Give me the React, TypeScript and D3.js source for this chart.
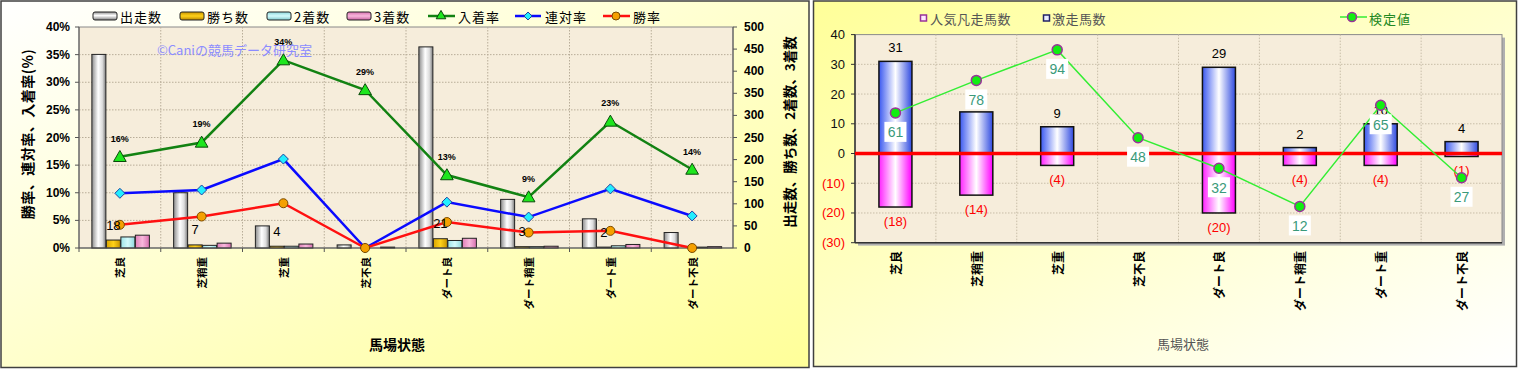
import React from "react";
import * as d3 from "d3";

// 馬場状態別の成績
const categories = ["芝良", "芝稍重", "芝重", "芝不良", "ダート良", "ダート稍重", "ダート重", "ダート不良"];
const starters = [438, 125, 50, 7, 455, 110, 66, 35];
const wins = [18, 7, 4, 0, 21, 3, 2, 0];
const seconds = [25, 6, 4, 0, 17, 3, 5, 2];
const thirds = [29, 11, 9, 2, 22, 4, 8, 3];
const winRate = [4.2, 5.7, 8.1, 0, 4.7, 2.8, 3.1, 0];
const rentaiRate = [9.9, 10.5, 16.1, 0, 8.3, 5.6, 10.7, 5.8];
const placeRate = [16.5, 19.1, 34.0, 28.6, 13.2, 9.2, 22.9, 14.2];
const placeLabels = ["16%", "19%", "34%", "29%", "13%", "9%", "23%", "14%"];
const pctTicks = [0, 5, 10, 15, 20, 25, 30, 35, 40];
const cntTicks = [0, 50, 100, 150, 200, 250, 300, 350, 400, 450, 500];

// 激走/凡走と検定値
const surgeCounts = [31, 14, 9, 0, 29, 2, 10, 4];
const flopCounts = [18, 14, 4, 0, 20, 4, 4, 1];
const testValues = [61, 78, 94, 48, 32, 12, 65, 27];
const rightTicks = [40, 30, 20, 10, 0, -10, -20, -30];

const JP = "'Noto Sans CJK JP', sans-serif";
const NUM = "'Liberation Sans', Arial, sans-serif";

const LeftChart: React.FC = () => {
  const x = d3.scaleBand(categories, [79, 733]);
  const yPct = d3.scaleLinear([0, 40], [248, 27]);
  const yCnt = d3.scaleLinear([0, 500], [248, 27]);
  const cx = (i: number) => (x(categories[i]) ?? 0) + x.bandwidth() / 2;
  const series = [starters, wins, seconds, thirds];
  const fills = ["url(#gStart)", "url(#gWin)", "url(#gSecond)", "url(#gThird)"];
  const line = (vals: number[]) =>
    d3.line<number>((_, i) => cx(i), (d) => yPct(d))(vals) ?? undefined;
  const tri = d3.symbol(d3.symbolTriangle, 70)() ?? "";
  const diamond = "M0,-5L5,0L0,5L-5,0Z";

  return (
    <g>
      <rect x={1} y={1} width={808} height={366.5} fill="url(#gLeftBg)" stroke="#404040" strokeWidth={1.5} />
      <rect x={79} y={27} width={654} height={221} fill="#f6eddb" stroke="#8a8a8a" />
      <g stroke="#b8ad98" strokeDasharray="1.5,1.5" strokeWidth={1}>
        {pctTicks.slice(1, -1).map((t) => (
          <line key={t} x1={79} x2={733} y1={yPct(t)} y2={yPct(t)} />
        ))}
        {categories.slice(1).map((c) => (
          <line key={c} x1={x(c)} x2={x(c)} y1={27} y2={248} />
        ))}
      </g>
      <text x={157} y={55} fontFamily={JP} fontSize={13} fill="#8c8cff">©Caniの競馬データ研究室</text>

      {/* bars */}
      {series.map((vals, s) =>
        vals.map((v, i) => (
          <rect key={`${s}-${i}`} x={cx(i) - 28 + s * 14.5} y={yCnt(v)} width={14}
            height={248 - yCnt(v)} fill={fills[s]} stroke="#222" strokeWidth={1} />
        ))
      )}

      {/* axes */}
      <line x1={79} x2={79} y1={27} y2={248} stroke="#555" />
      <line x1={733} x2={733} y1={27} y2={248} stroke="#555" />
      <line x1={79} x2={733} y1={248} y2={248} stroke="#555" />
      {pctTicks.map((t) => (
        <g key={t}>
          <line x1={75} x2={79} y1={yPct(t)} y2={yPct(t)} stroke="#555" />
          <text x={70} y={yPct(t)} textAnchor="end" dominantBaseline="central" fontFamily={NUM}
            fontWeight="bold" fontSize={12}>{t}%</text>
        </g>
      ))}
      {cntTicks.map((t) => (
        <g key={t}>
          <line x1={733} x2={737} y1={yCnt(t)} y2={yCnt(t)} stroke="#555" />
          <text x={744} y={yCnt(t)} dominantBaseline="central" fontFamily={NUM}
            fontWeight="bold" fontSize={12}>{t}</text>
        </g>
      ))}
      {categories.map((c, i) => (
        <g key={c}>
          <line x1={x(c)} x2={x(c)} y1={248} y2={252} stroke="#555" />
          <text transform={`translate(${cx(i)},257) rotate(-90)`} textAnchor="end"
            dominantBaseline="central" fontFamily={JP} fontWeight="bold" fontSize={10.5}>{c}</text>
        </g>
      ))}

      {/* lines */}
      <path d={line(placeRate)} fill="none" stroke="#128212" strokeWidth={2.5} />
      <path d={line(rentaiRate)} fill="none" stroke="#0a0aff" strokeWidth={2.5} />
      <path d={line(winRate)} fill="none" stroke="#ff1010" strokeWidth={2.5} />
      {placeRate.map((v, i) => (
        <path key={i} d={tri} transform={`translate(${cx(i)},${yPct(v) + 1})`} fill="#1ee61e" stroke="#0a4a0a" strokeWidth={1} />
      ))}
      {rentaiRate.map((v, i) => (
        <path key={i} d={diamond} transform={`translate(${cx(i)},${yPct(v)})`} fill="#22eeff" stroke="#2040a0" strokeWidth={1} />
      ))}
      {winRate.map((v, i) => (
        <circle key={i} cx={cx(i)} cy={yPct(v)} r={4.5} fill="#f5a000" stroke="#7a4a00" strokeWidth={1} />
      ))}
      {placeLabels.map((l, i) => (
        <text key={i} x={cx(i)} y={yPct(placeRate[i]) - 15} textAnchor="middle" fontFamily={NUM}
          fontWeight="bold" fontSize={9}>{l}</text>
      ))}
      {wins.map((v, i) =>
        v > 0 ? (
          <text key={i} x={cx(i) - 6.5} y={yCnt(v) - 10.5} textAnchor="middle" fontFamily={NUM} fontSize={13}>{v}</text>
        ) : null
      )}

      {/* legend */}
      {[
        { label: "出走数", fill: "url(#lgStart)", x: 93 },
        { label: "勝ち数", fill: "url(#lgWin)", x: 180 },
        { label: "2着数", fill: "url(#lgSecond)", x: 267 },
        { label: "3着数", fill: "url(#lgThird)", x: 347 },
      ].map((d) => (
        <g key={d.label}>
          <rect x={d.x} y={12} width={24} height={8} rx={2} fill={d.fill} stroke="#222" />
          <text x={d.x + 27} y={16.5} dominantBaseline="central" fontFamily={JP} fontSize={13} letterSpacing={1}>{d.label}</text>
        </g>
      ))}
      <line x1={428} x2={455} y1={16} y2={16} stroke="#128212" strokeWidth={2.5} />
      <path d={d3.symbol(d3.symbolTriangle, 40)() ?? ""} transform="translate(441,16)" fill="#1ee61e" stroke="#0a4a0a" />
      <text x={458} y={16.5} dominantBaseline="central" fontFamily={JP} fontSize={13} letterSpacing={1}>入着率</text>
      <line x1={515} x2={541} y1={16} y2={16} stroke="#0a0aff" strokeWidth={2.5} />
      <path d="M0,-4L4,0L0,4L-4,0Z" transform="translate(528,16)" fill="#22eeff" stroke="#2040a0" />
      <text x={545} y={16.5} dominantBaseline="central" fontFamily={JP} fontSize={13} letterSpacing={1}>連対率</text>
      <line x1={603} x2={630} y1={16} y2={16} stroke="#ff1010" strokeWidth={2.5} />
      <circle cx={616} cy={16} r={4} fill="#f5a000" stroke="#7a4a00" />
      <text x={633} y={16.5} dominantBaseline="central" fontFamily={JP} fontSize={13} letterSpacing={1}>勝率</text>

      {/* titles */}
      <text transform="translate(27,134) rotate(-90)" textAnchor="middle" dominantBaseline="central"
        fontFamily={JP} fontSize={14} fontWeight="bold" letterSpacing={0.5}>勝率、連対率、入着率(%)</text>
      <text transform="translate(789,132) rotate(-90)" textAnchor="middle" dominantBaseline="central"
        fontFamily={JP} fontSize={13.5} fontWeight="bold">出走数、勝ち数、2着数、3着数</text>
      <text x={397} y={350} textAnchor="middle" fontFamily={JP} fontSize={14} fontWeight="bold">馬場状態</text>
    </g>
  );
};

const RightChart: React.FC = () => {
  const x = d3.scaleBand(categories, [855, 1502]);
  const y = d3.scaleLinear([-30, 40], [242.7, 34.6]);
  const yTest = d3.scaleLinear([-7, 102], [242.7, 34.6]);
  const cx = (i: number) => (x(categories[i]) ?? 0) + x.bandwidth() / 2;
  const bw = 33;
  const testLine = d3.line<number>((_, i) => cx(i), (d) => yTest(d))(testValues) ?? undefined;

  return (
    <g>
      <rect x={813.5} y={1} width={703} height={365.5} fill="url(#gRightBg)" stroke="#404040" strokeWidth={1.5} />
      <rect x={858} y={37.6} width={647} height={208} fill="#b0b0b0" />
      <rect x={855} y={34.6} width={647} height={208.1} fill="#f6eddb" stroke="#8a8a8a" />
      <g stroke="#c8bea8" strokeDasharray="1.5,1.5" strokeWidth={1}>
        {rightTicks.slice(1, -1).map((t) => (
          <line key={t} x1={855} x2={1502} y1={y(t)} y2={y(t)} />
        ))}
        {categories.slice(1).map((c) => (
          <line key={c} x1={x(c)} x2={x(c)} y1={34.6} y2={242.7} />
        ))}
      </g>
      <line x1={855} x2={855} y1={34.6} y2={242.7} stroke="#333" strokeWidth={1.5} />
      <line x1={855} x2={1502} y1={242.7} y2={242.7} stroke="#333" strokeWidth={1.5} />
      {rightTicks.map((t) => (
        <g key={t}>
          <line x1={851} x2={855} y1={y(t)} y2={y(t)} stroke="#333" />
          <text x={845} y={y(t)} textAnchor="end" dominantBaseline="central" fontFamily={NUM}
            fontSize={13} fill={t < 0 ? "#ff0000" : "#111"}>{t < 0 ? `(${-t})` : t}</text>
        </g>
      ))}
      {categories.map((c, i) => (
        <text key={c} transform={`translate(${cx(i)},251) rotate(-90)`} textAnchor="end"
          dominantBaseline="central" fontFamily={JP} fontWeight="bold" fontSize={12}>{c}</text>
      ))}

      {/* bars */}
      {surgeCounts.map((v, i) =>
        v > 0 ? (
          <g key={i}>
            <rect x={cx(i) - bw / 2} y={y(v)} width={bw} height={y(0) - y(v)} fill="url(#gSurge)" stroke="#111" strokeWidth={1.5} />
            <text x={cx(i)} y={y(v) - 9} textAnchor="middle" fontFamily={NUM} fontSize={13}>{v}</text>
          </g>
        ) : null
      )}
      {flopCounts.map((v, i) =>
        v > 0 ? (
          <g key={i}>
            <rect x={cx(i) - bw / 2} y={y(0)} width={bw} height={y(-v) - y(0)} fill="url(#gFlop)" stroke="#111" strokeWidth={1.5} />
            <text x={cx(i)} y={y(-v) + 19} textAnchor="middle" fontFamily={NUM} fontSize={13} fill="#ff0000">({v})</text>
          </g>
        ) : null
      )}
      <line x1={855} x2={1502} y1={y(0)} y2={y(0)} stroke="#ff0000" strokeWidth={3.5} />

      {/* 検定値 */}
      <path d={testLine} fill="none" stroke="#33ee33" strokeWidth={1.5} />
      {testValues.map((v, i) => (
        <circle key={i} cx={cx(i)} cy={yTest(v)} r={5} fill="#11ee11" stroke="#993399" strokeWidth={1.5} />
      ))}
      {testValues.map((v, i) => (
        <g key={i}>
          <rect x={cx(i) - 11} y={yTest(v) + 9} width={22} height={20} fill="#ffffff" />
          <text x={cx(i)} y={yTest(v) + 19.5} textAnchor="middle" dominantBaseline="central"
            fontFamily={NUM} fontSize={14} fill="#3a9a7a">{v}</text>
        </g>
      ))}

      {/* legend */}
      <rect x={920.5} y={15} width={6} height={6} fill="#ffe8ff" stroke="#993399" strokeWidth={1.5} />
      <text x={930} y={18.5} dominantBaseline="central" fontFamily={JP} fontSize={13} letterSpacing={0.5} fill="#555">人気凡走馬数</text>
      <rect x={1043.5} y={15} width={6} height={6} fill="#e8ecff" stroke="#222266" strokeWidth={1.5} />
      <text x={1052} y={18.5} dominantBaseline="central" fontFamily={JP} fontSize={13} letterSpacing={0.5} fill="#555">激走馬数</text>
      <line x1={1340} x2={1367} y1={17} y2={17} stroke="#33ee33" strokeWidth={1.5} />
      <circle cx={1352} cy={17} r={4.5} fill="#11ee11" stroke="#993399" strokeWidth={1.5} />
      <text x={1369} y={18} dominantBaseline="central" fontFamily={JP} fontSize={13} letterSpacing={1} fill="#228822">検定値</text>

      <text x={1183} y={349} textAnchor="middle" fontFamily={JP} fontSize={13} fill="#555">馬場状態</text>
    </g>
  );
};

const App: React.FC = () => (
  <svg width={1518} height={369} style={{ position: "fixed", left: 0, top: 0, background: "#fff" }}>
    <defs>
      <linearGradient id="gLeftBg" x1="0" y1="0" x2="1" y2="1">
        <stop offset="0" stopColor="#ffffff" />
        <stop offset="1" stopColor="#ffff99" />
      </linearGradient>
      <linearGradient id="gRightBg" x1="0" y1="0" x2="1" y2="1">
        <stop offset="0" stopColor="#ffff99" />
        <stop offset="1" stopColor="#ffffff" />
      </linearGradient>
      <linearGradient id="gStart" x1="0" x2="1">
        <stop offset="0" stopColor="#8c8c8c" />
        <stop offset="0.45" stopColor="#ffffff" />
        <stop offset="0.75" stopColor="#dcdcdc" />
        <stop offset="1" stopColor="#7a7a7a" />
      </linearGradient>
      <linearGradient id="gWin" x1="0" x2="1">
        <stop offset="0" stopColor="#d9a400" />
        <stop offset="0.5" stopColor="#ffd21a" />
        <stop offset="1" stopColor="#c89400" />
      </linearGradient>
      <linearGradient id="gSecond" x1="0" x2="1">
        <stop offset="0" stopColor="#9ee4e8" />
        <stop offset="0.5" stopColor="#d4fbfc" />
        <stop offset="1" stopColor="#8ed8dc" />
      </linearGradient>
      <linearGradient id="gThird" x1="0" x2="1">
        <stop offset="0" stopColor="#e080b8" />
        <stop offset="0.5" stopColor="#f8b8dc" />
        <stop offset="1" stopColor="#d870b0" />
      </linearGradient>
      <linearGradient id="lgStart" x1="0" y1="0" x2="0" y2="1">
        <stop offset="0" stopColor="#909090" />
        <stop offset="0.45" stopColor="#ffffff" />
        <stop offset="1" stopColor="#808080" />
      </linearGradient>
      <linearGradient id="lgWin" x1="0" y1="0" x2="0" y2="1">
        <stop offset="0" stopColor="#c89400" />
        <stop offset="0.5" stopColor="#ffd21a" />
        <stop offset="1" stopColor="#b88400" />
      </linearGradient>
      <linearGradient id="lgSecond" x1="0" y1="0" x2="0" y2="1">
        <stop offset="0" stopColor="#8ed8dc" />
        <stop offset="0.5" stopColor="#d4fbfc" />
        <stop offset="1" stopColor="#7ec8cc" />
      </linearGradient>
      <linearGradient id="lgThird" x1="0" y1="0" x2="0" y2="1">
        <stop offset="0" stopColor="#d870b0" />
        <stop offset="0.5" stopColor="#f8b8dc" />
        <stop offset="1" stopColor="#c860a0" />
      </linearGradient>
      <linearGradient id="gSurge" x1="0" x2="1">
        <stop offset="0" stopColor="#3a58f0" />
        <stop offset="0.5" stopColor="#ffffff" />
        <stop offset="1" stopColor="#2f4ae0" />
      </linearGradient>
      <linearGradient id="gFlop" x1="0" x2="1">
        <stop offset="0" stopColor="#ff22ff" />
        <stop offset="0.5" stopColor="#ffffff" />
        <stop offset="1" stopColor="#ff00ff" />
      </linearGradient>
    </defs>
    <LeftChart />
    <RightChart />
  </svg>
);

export default App;
